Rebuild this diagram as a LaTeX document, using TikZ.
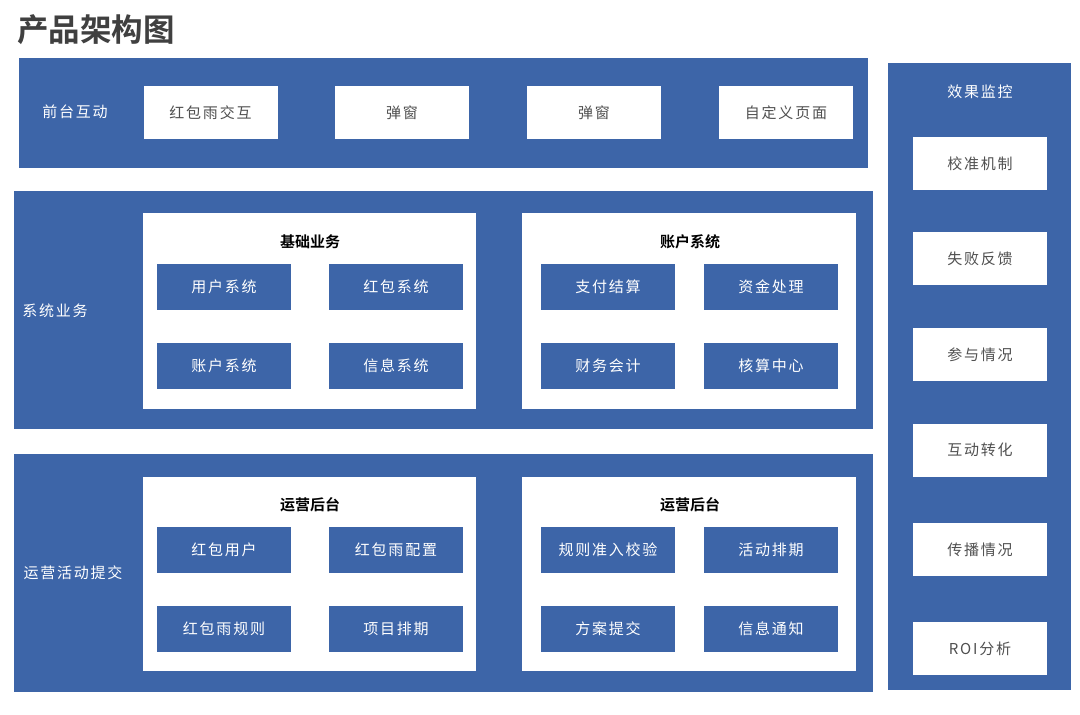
\documentclass[tikz,border=0pt]{standalone}
\usepackage{fontspec}
\setmainfont{Noto Sans CJK SC}
\newfontfamily\cjkbold{Noto Sans CJK SC Bold}
\definecolor{mainblue}{RGB}{61,101,168}
\definecolor{titlegray}{RGB}{64,64,64}
\definecolor{textgray}{RGB}{80,80,80}
\tikzset{
  bg/.style={fill=mainblue, inner sep=0pt, outer sep=0pt},
  panel/.style={fill=white, inner sep=0pt, outer sep=0pt, minimum width=333pt, minimum height=196pt},
  wbox/.style={fill=white, inner sep=0pt, outer sep=0pt, minimum width=134pt, minimum height=53pt,
    text=textgray, font=\fontsize{15}{18}\selectfont\addfontfeature{LetterSpace=12}},
  bbox/.style={fill=mainblue, inner sep=0pt, outer sep=0pt, minimum width=134pt, minimum height=46pt,
    text=white, font=\fontsize{15}{18}\selectfont\addfontfeature{LetterSpace=12}},
  sidelabel/.style={text=white, inner sep=0pt, font=\fontsize{15}{18}\selectfont\addfontfeature{LetterSpace=12}},
  ptitle/.style={text=black, inner sep=0pt, font=\cjkbold\fontsize{15}{18}\selectfont},
}
\begin{document}
\begin{tikzpicture}[x=1pt,y=-1pt]
\useasboundingbox (0,0) rectangle (1080,715);
\fill[white] (0,0) rectangle (1080,715);
% title
\node[anchor=west, inner sep=0pt, text=titlegray, font=\cjkbold\fontsize{31.5}{36}\selectfont] (title) at (17,30) {产品架构图};

% row 1
\node[bg, minimum width=849pt, minimum height=110pt] (r1) at (443.5,113) {};
\node[sidelabel] (r1l) at (75,112) {前台互动};
\node[wbox] (f1) at (210.5,112.5) {红包雨交互};
\node[wbox] (f2) at (402,112.5) {弹窗};
\node[wbox] (f3) at (594,112.5) {弹窗};
\node[wbox] (f4) at (786,112.5) {自定义页面};

% row 2
\node[bg, minimum width=859pt, minimum height=238pt] (r2) at (443.5,310) {};
\node[sidelabel] (r2l) at (55,311) {系统业务};
\node[panel] (p2a) at (309.5,311) {};
\node[ptitle] (p2at) at (310,242) {基础业务};
\node[bbox] (s1) at (224,287) {用户系统};
\node[bbox] (s2) at (396,287) {红包系统};
\node[bbox] (s3) at (224,365.5) {账户系统};
\node[bbox] (s4) at (396,365.5) {信息系统};
\node[panel, minimum width=334pt] (p2b) at (689,311) {};
\node[ptitle] (p2bt) at (690,242) {账户系统};
\node[bbox] (a1) at (608,287) {支付结算};
\node[bbox] (a2) at (771,287) {资金处理};
\node[bbox] (a3) at (608,365.5) {财务会计};
\node[bbox] (a4) at (771,365.5) {核算中心};

% row 3
\node[bg, minimum width=859pt, minimum height=238pt] (r3) at (443.5,573) {};
\node[sidelabel] (r3l) at (73,573) {运营活动提交};
\node[panel, minimum height=194pt] (p3a) at (309.5,574) {};
\node[ptitle] (p3at) at (310,505) {运营后台};
\node[bbox] (o1) at (224,550) {红包用户};
\node[bbox] (o2) at (396,550) {红包雨配置};
\node[bbox] (o3) at (224,628.5) {红包雨规则};
\node[bbox] (o4) at (396,628.5) {项目排期};
\node[panel, minimum width=334pt, minimum height=194pt] (p3b) at (689,574) {};
\node[ptitle] (p3bt) at (690,505) {运营后台};
\node[bbox] (q1) at (608,550) {规则准入校验};
\node[bbox] (q2) at (771,550) {活动排期};
\node[bbox] (q3) at (608,628.5) {方案提交};
\node[bbox] (q4) at (771,628.5) {信息通知};

% right column
\node[bg, minimum width=183pt, minimum height=627pt] (rc) at (979.5,376.5) {};
\node[sidelabel] (rct) at (980,92) {效果监控};
\node[wbox] (m1) at (980,163.5) {校准机制};
\node[wbox] (m2) at (980,258.5) {失败反馈};
\node[wbox] (m3) at (980,354.5) {参与情况};
\node[wbox] (m4) at (980,450) {互动转化};
\node[wbox] (m5) at (980,549.5) {传播情况};
\node[wbox] (m6) at (980,648.5) {ROI分析};
\end{tikzpicture}
\end{document}
